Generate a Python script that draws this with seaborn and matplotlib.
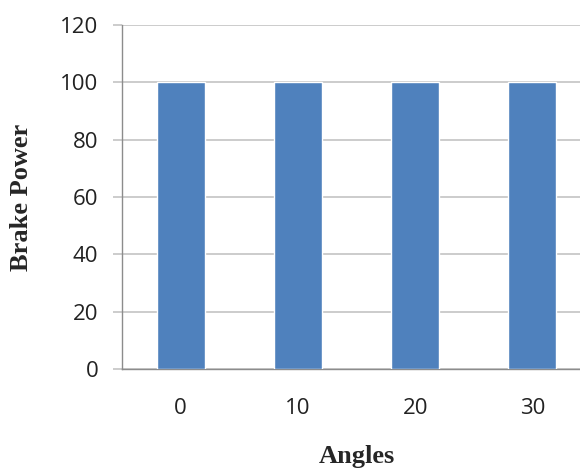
import matplotlib
matplotlib.use("Agg")
import matplotlib.pyplot as plt
import seaborn as sns
import pandas as pd

angles = ["0", "10", "20", "30"]
brake_power = [100, 100, 100, 100]
y_ticks = [0, 20, 40, 60, 80, 100, 120]

df = pd.DataFrame({"Angles": angles, "Brake Power": brake_power})

sns.set_theme(style="white")
plt.rcParams['font.family'] = ['Open Sans', 'DejaVu Sans']

W, H = 580, 472
fig = plt.figure(figsize=(W / 100, H / 100), dpi=100)
left, right, bottom, top = 122, 591, 369, 25
ax = fig.add_axes([left / W, (H - bottom) / H, (right - left) / W, (bottom - top) / H])

sns.barplot(data=df, x="Angles", y="Brake Power", order=angles, color="#4F81BD",
            width=0.41, saturation=1, ax=ax, zorder=3)

ax.set_ylim(0, 120)
ax.set_xlim(-0.5, 3.5)
ax.set_yticks(y_ticks)
ax.yaxis.grid(True, color="#BFBFBF", linewidth=1.1, zorder=0)
ax.set_axisbelow(True)
for s in ["top", "right"]:
    ax.spines[s].set_visible(False)
for s in ["left", "bottom"]:
    ax.spines[s].set_color("#8C8C8C")
    ax.spines[s].set_linewidth(1.0)
ax.tick_params(axis="y", length=6.5, width=1.1, color="#BFBFBF", pad=10.5, labelsize=16,
               labelcolor="#222222", left=True)
ax.tick_params(axis="x", length=0, pad=21, labelsize=16, labelcolor="#222222")
ax.set_xlabel("")
ax.set_ylabel("")

fig.text(22 / W, 1 - 197 / H, "Brake Power", rotation=90, ha="center", va="center",
         fontsize=19, fontweight="bold", family=["Liberation Serif"])
fig.text(357 / W, 1 - 457 / H, "Angles", ha="center", va="center",
         fontsize=19, fontweight="bold", family=["Liberation Serif"])

fig.savefig("out.png", dpi=100)
